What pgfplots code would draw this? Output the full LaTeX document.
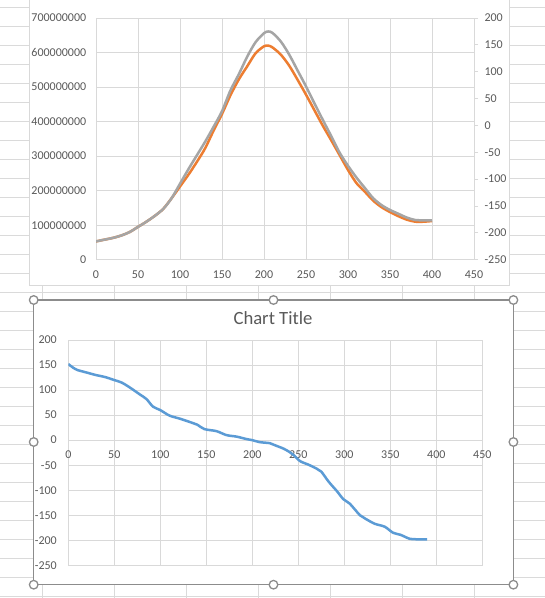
\documentclass[border=0pt]{standalone}
\usepackage{pgfplots}
\pgfplotsset{compat=1.18}
\usepackage{fontspec}
\setmainfont{Carlito}
\definecolor{sheet}{RGB}{218,218,218}
\definecolor{gridc}{RGB}{217,217,217}
\definecolor{txt}{RGB}{89,89,89}
\definecolor{sel}{RGB}{140,140,140}
\definecolor{xlorange}{RGB}{237,125,49}
\definecolor{xlgray}{RGB}{165,165,165}
\definecolor{xlblue}{RGB}{91,155,213}

\pgfplotstableread{
x gray orange
0 53000000 53000000
10 58000000 58000000
20 63000000 63000000
30 70000000 70000000
40 80000000 80000000
50 95000000 95000000
60 110000000 110000000
70 127000000 127000000
80 147000000 147000000
90 178000000 178000000
100 220000000 212000000
110 262000000 246000000
120 302000000 283000000
130 342000000 323000000
140 385000000 374000000
150 430000000 422000000
160 490000000 476000000
170 537000000 522000000
180 588000000 560000000
190 630000000 598000000
200 656000000 618000000
205 661000000 620000000
210 657000000 615000000
220 632000000 594000000
230 594000000 562000000
240 548000000 521000000
250 502000000 478000000
260 453000000 433000000
270 405000000 388000000
280 358000000 346000000
290 310000000 303000000
300 272000000 260000000
310 238000000 222000000
320 208000000 197000000
330 178000000 171000000
340 158000000 152000000
350 144000000 138000000
360 133000000 126000000
370 122000000 116000000
380 115000000 110000000
390 114000000 110000000
400 114000000 112000000
}\topdata

\pgfplotstableread{
x y
0 152
5 145
10 140
20 135
30 130
40 126
50 120
58 115
67 105
78 91
85 82
92 67
100 60
110 49
121 43
134 35
140 31
148 22
161 18
172 10
183 7
194 2
200 0
208 -4
219 -6
223 -9
234 -17
239 -22
245 -30
252 -42
261 -49
270 -57
275 -63
283 -83
292 -102
299 -118
306 -127
317 -150
323 -157
333 -167
344 -173
353 -185
361 -189
371 -197
379 -198
390 -198
}\bottomdata

\pgfplotsset{xlbase/.style={
  scale only axis,
  grid=major,
  major grid style={gridc, line width=0.8bp},
  axis line style={gridc, line width=0.8bp},
  tick style={draw=none},
  ticklabel style={font=\fontsize{12bp}{14bp}\selectfont, text=txt},
  /pgf/number format/assume math mode=true,
  /pgf/number format/1000 sep={},
}}

\begin{document}
\begin{tikzpicture}
\path[use as bounding box] (0,0) rectangle (545bp,598bp);
\clip (0,0) rectangle (545bp,598bp);
\begin{scope}[x=1bp,y=1bp]
\fill[white] (0,0) rectangle (545,598);
\foreach \k in {0,...,31} \draw[sheet, line width=0.8bp] (0,{598-7.5-19*\k}) -- (545,{598-7.5-19*\k});
\foreach \k in {0,...,6} \draw[sheet, line width=0.8bp] ({42.4+72.03*\k},0) -- ({42.4+72.03*\k},598);
\filldraw[fill=white, draw=gridc, line width=0.8bp] (29.5,312.5) rectangle (509,601);
\fill[white] (33.7,13.3) rectangle (513.4,298);
\end{scope}

% top chart, primary axis
\begin{axis}[xlbase,
  at={(96bp,338.3bp)}, anchor=south west,
  width=378bp, height=241.7bp,
  xmin=0, xmax=450, ymin=0, ymax=700000000,
  xtick={0,50,...,450},
  ytick={0,100000000,200000000,300000000,400000000,500000000,600000000,700000000},
  yticklabels={0,100000000,200000000,300000000,400000000,500000000,600000000,700000000},
  scaled y ticks=false,
  yticklabel style={xshift=-6.3bp},
  xticklabel style={yshift=-7.3bp},
]
\addplot[xlorange, line width=2.5bp, smooth, line join=round] table[x=x, y=orange] {\topdata};
\addplot[xlgray, line width=2.5bp, smooth, line join=round] table[x=x, y=gray] {\topdata};
\end{axis}

% top chart, secondary axis
\begin{axis}[
  scale only axis,
  at={(96bp,338.3bp)}, anchor=south west,
  width=378bp, height=241.7bp,
  xmin=0, xmax=450, ymin=-250, ymax=200,
  xtick=\empty,
  ytick={-250,-200,...,200},
  ytick pos=right, yticklabel pos=right,
  axis line style={draw=none},
  tick align=outside, major tick length=4bp,
  tick style={gridc, line width=0.8bp},
  ticklabel style={font=\fontsize{12bp}{14bp}\selectfont, text=txt},
  /pgf/number format/assume math mode=true,
  yticklabel style={xshift=3bp},
]
\end{axis}

% bottom chart
\begin{axis}[xlbase,
  at={(68.3bp,32.7bp)}, anchor=south west,
  width=414bp, height=225.3bp,
  xmin=0, xmax=450, ymin=-250, ymax=200,
  xtick={0,50,...,450},
  ytick={-250,-200,...,200},
  yticklabel style={xshift=-8bp},
  xticklabel style={yshift=118bp},
]
\addplot[xlblue, line width=2.5bp, smooth, line join=round] table[x=x, y=y] {\bottomdata};
\end{axis}

\node[anchor=base, font=\fontsize{18.67bp}{22bp}\selectfont, text=txt] at (273bp,273bp) {Chart Title};

\begin{scope}[x=1bp,y=1bp]
\draw[sel, line width=1.3bp] (33.7,13.3) rectangle (513.4,298);
\foreach \p in {(33.7,298),(273.5,298),(513.4,298),(33.7,156),(513.4,156),(33.7,13.3),(273.5,13.3),(513.4,13.3)}
  \filldraw[draw=sel, fill=white, line width=1.3bp] \p circle (4.3);
\end{scope}
\end{tikzpicture}
\end{document}
